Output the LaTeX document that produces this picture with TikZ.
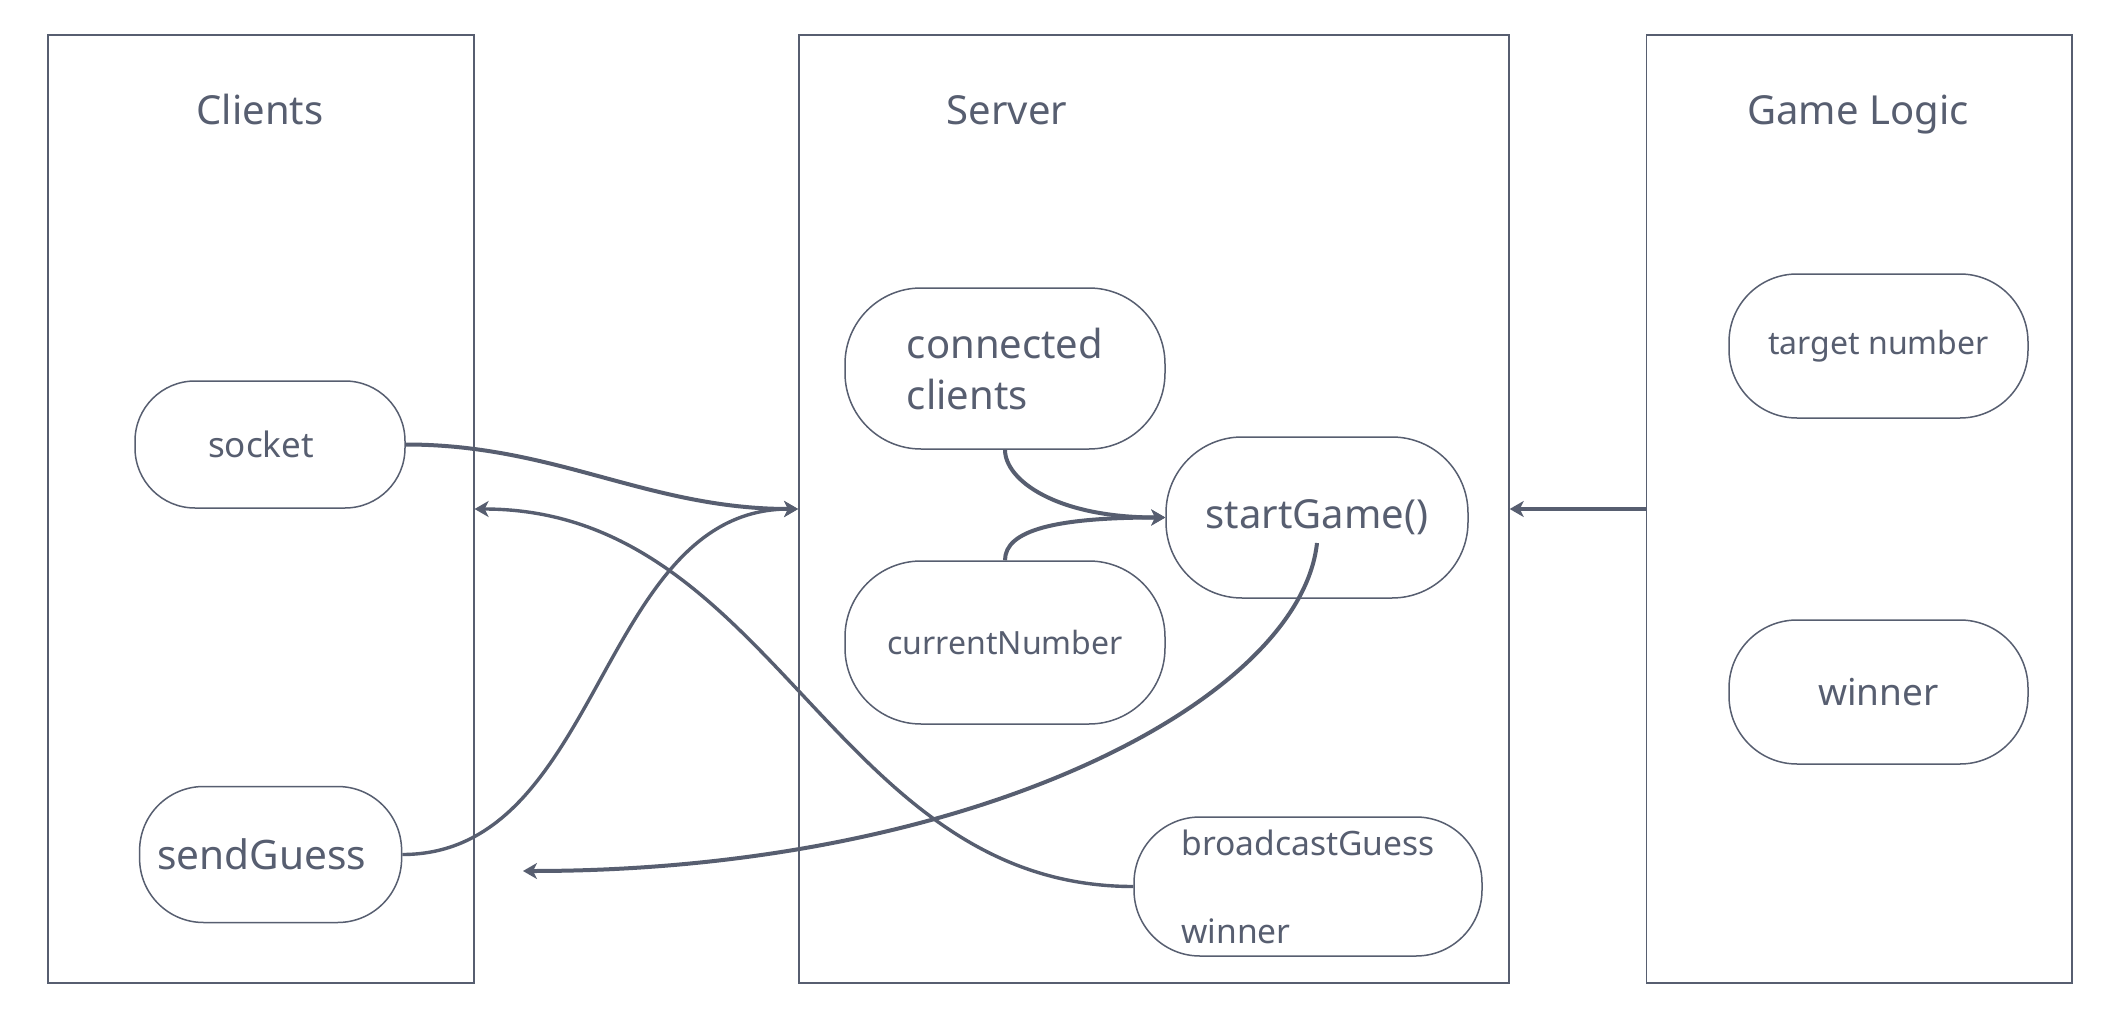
\documentclass[tikz,border=0pt]{standalone}
\usepackage{fontspec}
\setmainfont{Noto Sans}
\usetikzlibrary{arrows.meta}
\definecolor{slate}{HTML}{575E70}
\begin{document}
\begin{tikzpicture}[x=0.5pt,y=-0.5pt,
  every node/.style={text=slate},
  panel/.style={draw=slate, line width=0.9pt, inner sep=0pt, minimum height=474pt},
  title/.style={font=\fontsize{20}{24}\selectfont, inner sep=0pt, anchor=base},
  pill/.style={draw=slate, line width=0.75pt, inner sep=0pt, align=left, rounded corners=#1},
  conn/.style={draw=slate, line width=2pt, -{Stealth[length=7pt,width=8pt,inset=2pt]}},
  thinconn/.style={conn, line width=1.7pt}]
\useasboundingbox (0,0) rectangle (2116,1022);
\fill[white] (0,0) rectangle (2116,1022);

% panels
\node[panel, minimum width=212.8pt] (clients) at (260.9,509) {};
\node[panel, minimum width=354.9pt] (server) at (1153.9,509) {};
\node[panel, minimum width=212.8pt] (game) at (1859.2,509) {};

% titles
\node[title] (tclients) at (260,125) {Clients};
\node[title] (tserver) at (1007,125) {Server};
\node[title] (tgame) at (1858,125) {Game Logic};

% client nodes
\node[pill=30pt, minimum width=135pt, minimum height=63.5pt, font=\fontsize{17.5}{20}\selectfont] (socket) at (270,444.5) {socket\hspace*{9pt}};
\node[pill=32pt, minimum width=131pt, minimum height=68pt, font=\fontsize{20.3}{24}\selectfont] (send) at (270.6,854.5) {sendGuess\hspace*{9pt}};

% server nodes
\node[pill=38pt, minimum width=160pt, minimum height=80.5pt, font=\fontsize{20}{25.5}\selectfont] (conn) at (1005,368.5) {connected\\clients};
\node[pill=38pt, minimum width=151pt, minimum height=80.5pt, font=\fontsize{20}{24}\selectfont] (start) at (1317,517.5) {startGame()};
\node[pill=38pt, minimum width=160pt, minimum height=81.5pt, font=\fontsize{16}{20}\selectfont] (cur) at (1005,642.5) {currentNumber};
\node[pill=33pt, minimum width=174pt, minimum height=69.5pt, font=\fontsize{16.8}{44}\selectfont] (bcast) at (1308,886.5) {broadcastGuess\\winner};

% game logic nodes
\node[pill=34pt, minimum width=149.5pt, minimum height=72pt, font=\fontsize{16}{20}\selectfont] (target) at (1878.5,346) {target number};
\node[pill=34pt, minimum width=149.5pt, minimum height=72pt, font=\fontsize{18.5}{22}\selectfont] (win) at (1878.5,692) {winner};

% free ends
\coordinate (sgout) at (1317,543);
\coordinate (sgend) at (523,871);

% connectors
\draw[conn] (socket.east) .. controls +(150,0) and +(-150,0) .. (server.west);
\draw[thinconn] (send.east) .. controls +(200,0) and +(-200,0) .. (server.west);
\draw[thinconn] (bcast.west) .. controls +(-300,0) and +(300,0) .. (clients.east);
\draw[conn] (sgout) .. controls +(-17,157) and +(450,0) .. (sgend);
\draw[conn] (conn.south) .. controls +(0,30) and +(-110,0) .. (start.west);
\draw[conn] (cur.north) .. controls +(0,-30) and +(-110,0) .. (start.west);
\draw[conn] (game.west) -- (server.east);
\end{tikzpicture}
\end{document}
